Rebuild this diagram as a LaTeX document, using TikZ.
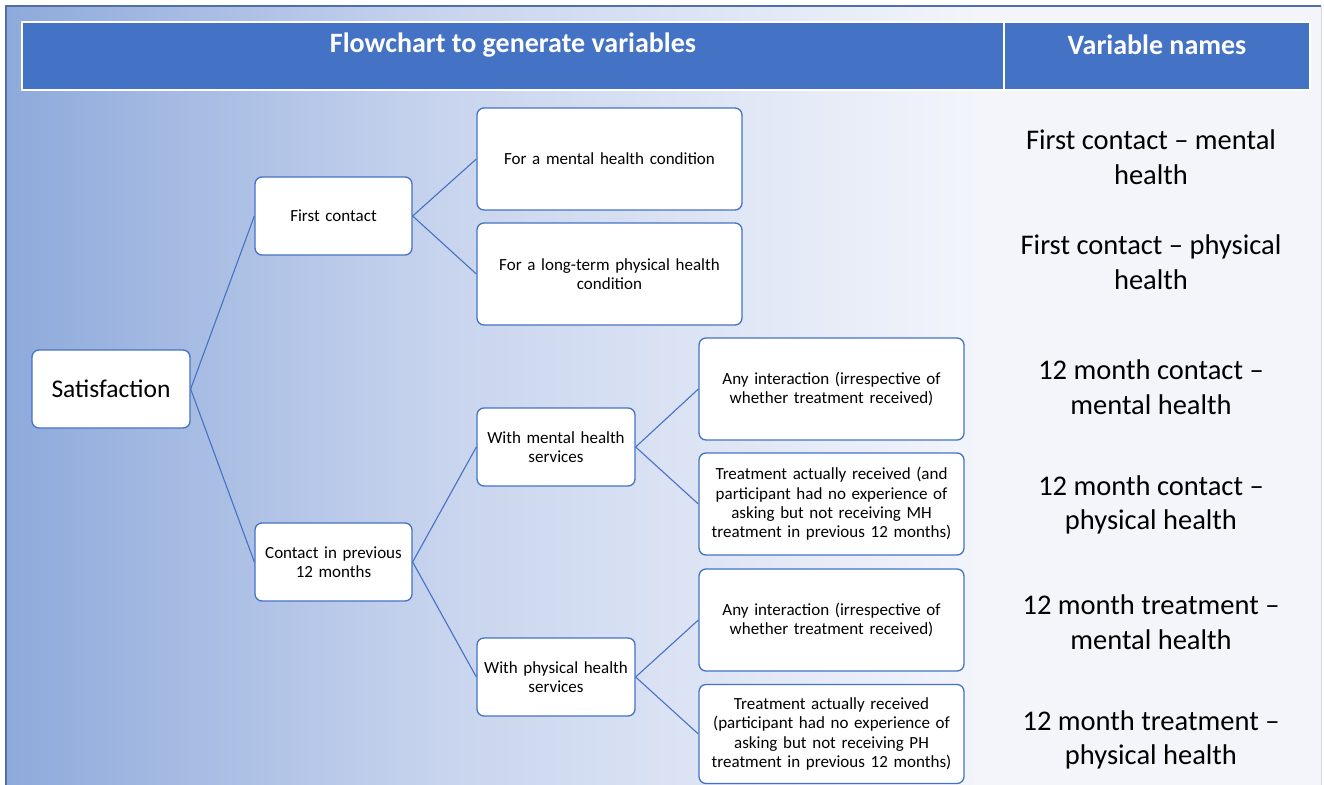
\documentclass[tikz,border=0pt]{standalone}
\usepackage{fontspec}
\setmainfont{Carlito}
\definecolor{hdr}{HTML}{4472C4}
\definecolor{frameblue}{HTML}{4F6FA8}
\definecolor{gleft}{HTML}{8EAADB}
\definecolor{gmid}{HTML}{C9D5EE}
\definecolor{gright}{HTML}{F3F5FB}
\pgfdeclarehorizontalshading{bgshade}{100bp}{color(0bp)=(gleft); color(25bp)=(gleft); color(42bp)=(gmid); color(62bp)=(gright); color(100bp)=(gright)}
\begin{document}
\begin{tikzpicture}[x=1pt,y=-1pt,
  box/.style={draw=hdr, line width=1.3pt, fill=white, rounded corners=7pt, align=center, inner sep=0pt, font=\fontsize{17}{19.4}\selectfont},
  conn/.style={draw=hdr, line width=1.1pt},
  hdrtxt/.style={text=white, font=\bfseries\fontsize{28}{32}\selectfont},
  varname/.style={align=center, font=\fontsize{28.5}{34.5}\selectfont, text=black}]
\useasboundingbox (0,0) rectangle (1324,784);
\clip (0,0) rectangle (1324,784);
% background frame
\shade[shading=bgshade] (6,6) rectangle (1321,800);
\draw[frameblue, line width=1.5pt] (6,800) -- (6,6) -- (1321,6);
\draw[black!15, line width=1pt] (1321,6) -- (1321,800);
% header
\fill[hdr] (22,22) rectangle (1310,90);
\draw[white, line width=2pt] (22,22) rectangle (1310,90);
\draw[white, line width=2pt] (1004,22) -- (1004,90);
\node[hdrtxt] (h1) at (513,45) {Flowchart to generate variables};
\node[hdrtxt] (h2) at (1157,45) {Variable names};
% nodes
\node[box, minimum width=158pt, minimum height=78pt, text width=145pt, font=\fontsize{25.5}{30}\selectfont] (sat) at (111,389) {Satisfaction};
\node[box, minimum width=157pt, minimum height=78pt, text width=145pt] (fc) at (333.5,216) {First contact};
\node[box, minimum width=157pt, minimum height=78pt, text width=145pt] (cp) at (333.5,562) {Contact in previous\\12 months};
\node[box, minimum width=265pt, minimum height=102pt, text width=255pt] (fmh) at (609.5,159) {For a mental health condition};
\node[box, minimum width=265pt, minimum height=102pt, text width=255pt] (fph) at (609.5,274) {For a long-term physical health\\condition};
\node[box, minimum width=158pt, minimum height=78pt, text width=150pt] (wmh) at (556,447) {With mental health\\services};
\node[box, minimum width=158pt, minimum height=78pt, text width=150pt] (wph) at (556,677) {With physical health\\services};
\node[box, minimum width=265pt, minimum height=102pt, text width=258pt] (ai1) at (831.5,389) {Any interaction (irrespective of\\whether treatment received)};
\node[box, minimum width=265pt, minimum height=102pt, text width=258pt] (tr1) at (831.5,504) {Treatment actually received (and\\participant had no experience of\\asking but not receiving MH\\treatment in previous 12 months)};
\node[box, minimum width=265pt, minimum height=102pt, text width=258pt] (ai2) at (831.5,620) {Any interaction (irrespective of\\whether treatment received)};
\node[box, minimum width=265pt, minimum height=99pt, text width=258pt] (tr2) at (831.5,734) {Treatment actually received\\(participant had no experience of\\asking but not receiving PH\\treatment in previous 12 months)};
% connectors
\draw[conn] (sat.east) -- (fc.west);
\draw[conn] (sat.east) -- (cp.west);
\draw[conn] (fc.east) -- (fmh.west);
\draw[conn] (fc.east) -- (fph.west);
\draw[conn] (cp.east) -- (wmh.west);
\draw[conn] (cp.east) -- (wph.west);
\draw[conn] (wmh.east) -- (ai1.west);
\draw[conn] (wmh.east) -- (tr1.west);
\draw[conn] (wph.east) -- (ai2.west);
\draw[conn] (wph.east) -- (tr2.west);
% variable names
\node[varname] (v1) at (1151,157) {First contact -- mental\\health};
\node[varname] (v2) at (1151,262) {First contact -- physical\\health};
\node[varname] (v3) at (1151,387) {12 month contact --\\mental health};
\node[varname] (v4) at (1151,505) {12 month contact --\\physical health};
\node[varname] (v5) at (1151,622) {12 month treatment --\\mental health};
\node[varname] (v6) at (1151,740) {12 month treatment --\\physical health};
\end{tikzpicture}
\end{document}
